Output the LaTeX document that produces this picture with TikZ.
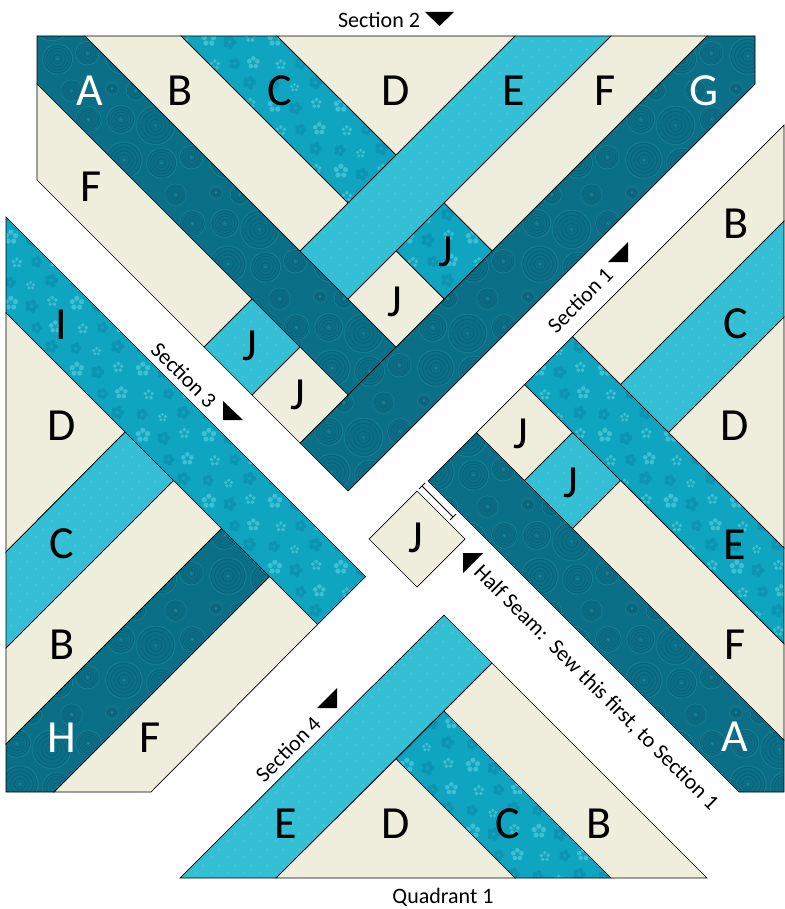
\documentclass[tikz,border=0pt]{standalone}
\usepackage{fontspec}
\setmainfont{Carlito}
\usetikzlibrary{patterns}
\definecolor{creamc}{HTML}{EFEEDD}
\definecolor{darkc}{HTML}{0B7087}
\definecolor{darkring}{HTML}{0A5F76}
\definecolor{darklite}{HTML}{1A8498}
\definecolor{medc}{HTML}{0FA5C0}
\definecolor{medlite}{HTML}{3FBFD3}
\definecolor{meddark}{HTML}{0C95B2}
\definecolor{litec}{HTML}{35BFD5}
\definecolor{litedot}{HTML}{55CBDB}
% concentric-circle print
\newcommand{\qrings}[3]{%x y r
  \pgfsetcolor{darkring}\pgfsetlinewidth{0.6pt}%
  \pgfpathcircle{\pgfpoint{#1pt}{#2pt}}{#3pt}%
  \pgfpathcircle{\pgfpoint{#1pt}{#2pt}}{0.78*#3pt}%
  \pgfpathcircle{\pgfpoint{#1pt}{#2pt}}{0.56*#3pt}%
  \pgfpathcircle{\pgfpoint{#1pt}{#2pt}}{0.34*#3pt}%
  \pgfusepath{stroke}%
  \pgfsetcolor{darklite}\pgfsetlinewidth{0.5pt}%
  \pgfpathcircle{\pgfpoint{#1pt}{#2pt}}{1.08*#3pt}\pgfusepath{stroke}%
  \pgfpathcircle{\pgfpoint{#1pt}{#2pt}}{1.4pt}\pgfusepath{fill}}
\pgfdeclarepatterninherentlycolored{qdark}{\pgfpoint{0pt}{0pt}}{\pgfpoint{104pt}{104pt}}{\pgfpoint{104pt}{104pt}}{%
  \qrings{20}{21}{17}\qrings{58}{18}{14}\qrings{88}{24}{11}%
  \qrings{17}{62}{13}\qrings{52}{56}{18}\qrings{89}{62}{12}%
  \qrings{32}{91}{9}\qrings{72}{91}{10}\qrings{8}{93}{6}}
% flower print
\newcommand{\qflower}[3]{%
  \pgfsetcolor{medlite}%
  \foreach \qa in {18,90,162,234,306}{%
    \pgfpathcircle{\pgfpointadd{\pgfpoint{#1pt}{#2pt}}{\pgfpointpolar{\qa}{0.62*#3pt}}}{0.33*#3pt}}%
  \pgfusepath{fill}}
\newcommand{\qblot}[3]{%
  \pgfsetcolor{meddark}%
  \foreach \qa in {0,72,144,216,288}{%
    \pgfpathcircle{\pgfpointadd{\pgfpoint{#1pt}{#2pt}}{\pgfpointpolar{\qa}{0.6*#3pt}}}{0.4*#3pt}}%
  \pgfusepath{fill}}
\pgfdeclarepatterninherentlycolored{qflow}{\pgfpoint{0pt}{0pt}}{\pgfpoint{66pt}{66pt}}{\pgfpoint{66pt}{66pt}}{%
  \qflower{11}{12}{8}\qblot{32}{9}{7}\qflower{53}{14}{6}%
  \qblot{10}{33}{6}\qflower{31}{30}{5}\qblot{52}{35}{7}%
  \qflower{17}{53}{6}\qblot{37}{54}{6}\qflower{56}{55}{7}}
% dotted print
\pgfdeclarepatterninherentlycolored{qdots}{\pgfpoint{0pt}{0pt}}{\pgfpoint{16pt}{16pt}}{\pgfpoint{16pt}{16pt}}{%
  \pgfsetcolor{litedot}%
  \pgfpathcircle{\pgfpoint{4pt}{4pt}}{1pt}%
  \pgfpathcircle{\pgfpoint{12pt}{12pt}}{1pt}%
  \pgfusepath{fill}}
\tikzset{
  x=1pt,y=-1pt,
  piece/.style={draw=black,line width=0.7pt,line join=miter},
  cream/.style={piece,fill=creamc},
  darkp/.style={piece,preaction={fill=darkc},preaction={pattern=qdark}},
  medp/.style={piece,preaction={fill=medc},preaction={pattern=qflow}},
  litep/.style={piece,preaction={fill=litec},preaction={pattern=qdots}},
  blk/.style={font=\fontsize{46}{50}\selectfont,text=black,inner sep=0pt},
  wht/.style={blk,text=white},
  captxt/.style={font=\fontsize{22}{26}\selectfont,text=black,inner sep=0pt},
  tri/.style={fill=black,draw=none},
}
\begin{document}
\begin{tikzpicture}
\useasboundingbox (0,0) rectangle (784,909);
\fill[white] (0,0) rectangle (784,909);
% Section 2 (top)
\path[darkp] (37,36)--(85,36)--(396,347)--(348,395)--(37,84)--cycle;
\path[cream] (37,84)--(252,299)--(204,347)--(37,180)--cycle;
\path[cream] (85,36)--(181,36)--(348,203)--(300,251)--cycle;
\path[medp] (181,36)--(277,36)--(396,155)--(348,203)--cycle;
\path[cream] (277,36)--(515,36)--(396,155)--cycle;
\path[litep] (515,36)--(611,36)--(348,299)--(300,251)--cycle;
\path[cream] (611,36)--(707,36)--(492,251)--(444,203)--cycle;
\path[darkp] (707,36)--(755,36)--(755,84)--(348,491)--(300,443)--cycle;
\path[medp] (444,203)--(492,251)--(444,299)--(396,251)--cycle;
\path[cream] (396,251)--(444,299)--(396,347)--(348,299)--cycle;
\path[litep] (252,299)--(300,347)--(252,395)--(204,347)--cycle;
\path[cream] (300,347)--(348,395)--(300,443)--(252,395)--cycle;
% Section 1 (right)
\path[darkp] (428,481)--(476.5,432.5)--(784,740)--(784,792)--(739,792)--cycle;
\path[cream] (476.5,432.5)--(524.5,384.5)--(572.5,432.5)--(524.5,480.5)--cycle;
\path[litep] (572.5,432.5)--(620.5,480.5)--(572.5,528.5)--(524.5,480.5)--cycle;
\path[medp] (524.5,384.5)--(572.5,336.5)--(784,548)--(784,644)--cycle;
\path[cream] (620.5,480.5)--(784,644)--(784,740)--(572.5,528.5)--cycle;
\path[cream] (572.5,336.5)--(784,125)--(784,221)--(620.5,384.5)--cycle;
\path[litep] (620.5,384.5)--(784,221)--(784,317)--(668.5,432.5)--cycle;
\path[cream] (668.5,432.5)--(784,317)--(784,548)--cycle;
% Section 3 (left)
\path[medp] (6,217)--(365.5,576.5)--(317.5,624.5)--(6,313)--cycle;
\path[cream] (6,313)--(125,432)--(6,552)--cycle;
\path[litep] (6,552)--(125,432)--(173.5,480.5)--(6,648)--cycle;
\path[cream] (6,648)--(173.5,480.5)--(221.5,528.5)--(6,744)--cycle;
\path[darkp] (6,744)--(221.5,528.5)--(269.5,576.5)--(54,792)--(6,792)--cycle;
\path[cream] (54,792)--(269.5,576.5)--(317.5,624.5)--(151,792)--cycle;
% Section 4 (bottom)
\path[litep] (180,878)--(444,615)--(492,663)--(276,878)--cycle;
\path[cream] (492,663)--(707,878)--(611,878)--(444,711)--cycle;
\path[medp] (444,711)--(611,878)--(515,878)--(396,759)--cycle;
\path[cream] (396,759)--(515,878)--(276,878)--cycle;
% loose J
\path[cream] (417,491)--(465,539)--(417,587)--(369,539)--cycle;
% half seam bracket
\draw[line width=0.8pt,black] (422,486)--(453,517);
\draw[line width=0.8pt,black] (419,489)--(425,483) (450,520)--(456,514);
% markers
\path[tri] (425,12)--(454,12)--(439.5,26)--cycle;
\path[tri] (608,262)--(628,242)--(628,262)--cycle;
\path[tri] (223,401)--(223,420)--(243,420)--cycle;
\path[tri] (317,708)--(337,688)--(337,708)--cycle;
\path[tri] (463,553)--(483,553)--(463,573)--cycle;
% letters
\node[wht] (a1) at (90,91) {A};
\node[blk] (b1) at (180,91) {B};
\node[blk] (c1) at (280,91) {C};
\node[blk] (d1) at (396,91) {D};
\node[blk] (e1) at (514,91) {E};
\node[blk] (f1) at (605,91) {F};
\node[wht] (g1) at (704,91) {G};
\node[blk] (f2) at (91,187) {F};
\node[blk] (j1) at (446,252) {J};
\node[blk] (j2) at (395,302) {J};
\node[blk] (j3) at (250,346) {J};
\node[blk] (j4) at (298,395) {J};
\node[blk] (b2) at (736,224) {B};
\node[blk] (c2) at (736,324) {C};
\node[blk] (d2) at (735,426) {D};
\node[blk] (e2) at (735,545) {E};
\node[blk] (f3) at (735,645) {F};
\node[wht] (a2) at (735,737) {A};
\node[blk] (j5) at (521,434) {J};
\node[blk] (j6) at (571,483) {J};
\node[blk] (j7) at (416,538) {J};
\node[blk] (i1) at (61,325) {I};
\node[blk] (d3) at (62,426) {D};
\node[blk] (c3) at (62,544) {C};
\node[blk] (b3) at (62,645) {B};
\node[wht] (h1) at (62,738) {H};
\node[blk] (f4) at (150,738) {F};
\node[blk] (e3) at (286,824) {E};
\node[blk] (d4) at (396,824) {D};
\node[blk] (c4) at (508,824) {C};
\node[blk] (b4) at (599,824) {B};
% captions
\node[captxt] (s2) at (379,20) {Section 2};
\node[captxt,rotate=45] (s1) at (580,300) {Section 1};
\node[captxt,rotate=-45] (s3) at (184,375) {Section 3};
\node[captxt,rotate=45] (s4) at (288,749) {Section 4};
\node[captxt,rotate=-45] (hs) at (596,688) {Half Seam:\ \ Sew this first, to Section 1};
\node[captxt] (q1) at (443,897) {Quadrant 1};
\end{tikzpicture}
\end{document}
